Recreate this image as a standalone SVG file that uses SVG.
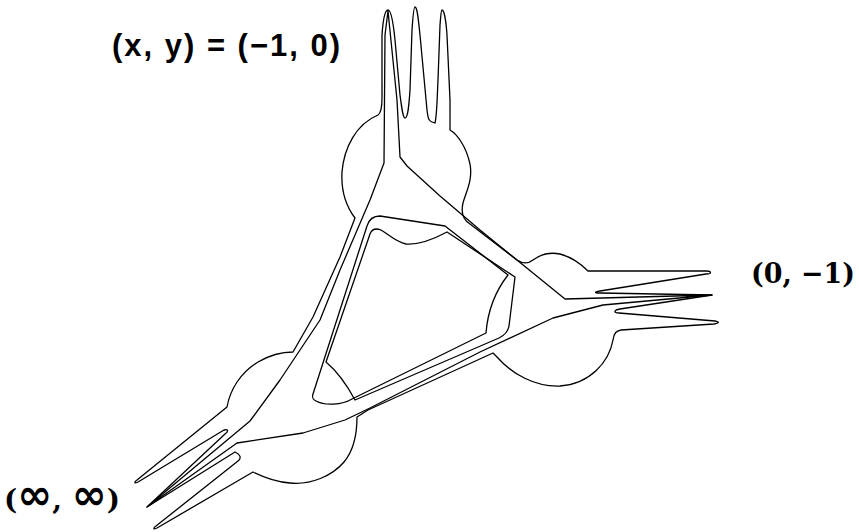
<svg xmlns="http://www.w3.org/2000/svg" width="859" height="532" viewBox="0 0 859 532">
<style>
.c{fill:none;stroke:#000;stroke-width:1.3;stroke-linejoin:round;stroke-linecap:round}
.s{font-family:"Liberation Sans","DejaVu Sans",sans-serif;font-weight:bold;font-size:31px;fill:#000}
.r{font-family:"DejaVu Serif","Liberation Serif",serif;font-weight:bold;font-size:28px;fill:#000}
.inf{font-family:"DejaVu Sans",sans-serif;font-weight:bold;font-size:42px}
</style>
<rect width="859" height="532" fill="#fff"/>
<g id="connectors">
<path id="outer" class="c" d="M355,218 C346,206 341,190 342,172 C344,148 356,124 378,115 C381,113 382,108 382,98 L382,35 C383,20 385,10 388,10 C391,10 393,20 395,40 L400,95 C402,110 403,118 405,118 C408,118 409,105 410,90 L412,30 C413,15 414,7 415,7 C417,7 418,15 420,35 L427,110 C428,119 429,121 432,122 L435,123 C437,115 437,100 438,80 L440,25 C441,14 441,10 442,10 C444,10 446,20 447,35 L450,100 L450,130 C457,134 466,146 470,164 C473,180 466,192 463,203 C461,212 463,220 470,224 L517,260 C523,264 528,264 533,260 C541,254 550,252 560,254 C572,257 581,264 588,271 L706,271 C712,271 712,274 706,274 L600,291 C594,292 594,293 600,293 L712,295 L620,309 C614,310 613,313 619,313 L715,321 C720,322 719,323 714,324 L621,330 C616,331 614,333 613,340 C609,362 590,384 560,386 C535,387 512,374 497,357 L493,353 L368,410 L357,417 C357,434 354,450 344,462 C332,476 311,485 290,483 C276,482 263,477 253,472 L157,528 C153,530 153,528 156,526 L238,461 C242,458 240,454 235,452 L147,507 L225,434 C229,431 228,429 224,430 L138,482 C134,484 134,482 137,480 L227,407 C230,390 240,373 258,362 C270,355 282,352 293,352 L313,317 L340,257 Z"/>
<path id="triangle" class="c" d="M388,11 L385,35 L384,163 L370,200 L355,235 L340,270 L320,320 L300,350 L280,380 L250,421 L147,507 L237,443 L303,433 L345,420 L370,408 L480,352 L553,318 L603,305 L712,295 L565,299 L480,230 L440,196 L407,166 L400,157 L397,100 Z"/>
<path id="ring" class="c" d="M313,394 L367,226 C369,219 373,216 380,216 L445,226 L508,275 C497,289 488,308 486,333 L352,399 C342,405 325,406 316,401 C312,399 312,397 313,394 Z"/>
<path id="inner" class="c" d="M326,362 L370,234 C372,229 376,228 381,230 C388,234 396,242 406,244 C420,245 434,239 447,232 L515,277 L509,326 C508,332 505,335 499,338 L355,400 C348,387 338,372 326,362 Z"/>
</g>
<g id="label-top"><text x="112" y="56" textLength="228" lengthAdjust="spacing" class="s">(x, y) = (−1, 0)</text></g>
<g id="label-right"><text x="751" y="283" textLength="104" lengthAdjust="spacingAndGlyphs" class="r">(0, −1)</text></g>
<g id="label-bottom"><text x="4" y="509" textLength="116" lengthAdjust="spacingAndGlyphs" class="r">(<tspan class="inf">∞</tspan>, <tspan class="inf">∞</tspan>)</text></g>
</svg>
